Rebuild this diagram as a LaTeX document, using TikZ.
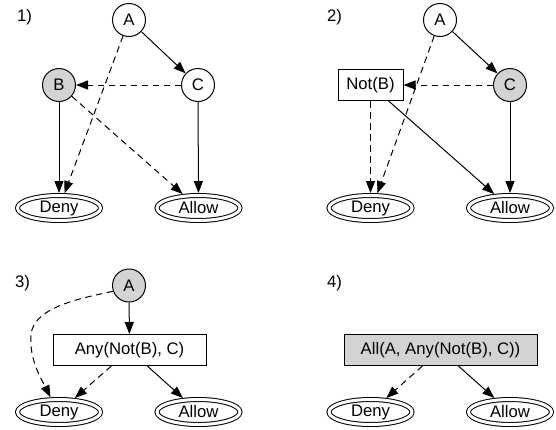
\documentclass[tikz,border=0pt]{standalone}
\usepackage{fontspec}
\setmainfont{Liberation Sans}
\usetikzlibrary{arrows.meta,shapes.geometric}
\definecolor{lg}{RGB}{211,211,211}
\begin{document}
\begin{tikzpicture}[x=1pt,y=-1pt,
  every node/.style={font=\fontsize{16.7}{20}\selectfont},
  circ/.style={circle,draw,line width=1pt,minimum size=33pt,inner sep=0pt},
  shaded/.style={fill=lg},
  boxn/.style={rectangle,draw,line width=1pt,minimum height=31pt,inner sep=0pt},
  term/.style={ellipse,draw,line width=1pt,double,double distance=3pt,minimum width=83pt,minimum height=25pt,inner sep=0pt,outer sep=2.5pt},
  lbl/.style={anchor=base west,inner sep=0pt},
  edge/.style={line width=1pt,-{Triangle[length=12pt,width=9pt]}},
  dedge/.style={edge,dash pattern=on 6.5pt off 4.5pt},
]
\useasboundingbox (0,0) rectangle (556,429);

% panel labels
\node[lbl] (n1) at (17,21) {1)};
\node[lbl] (n2) at (327,21) {2)};
\node[lbl] (n3) at (15,287) {3)};
\node[lbl] (n4) at (327,287) {4)};

% panel 1
\node[circ] (A1) at (129,20) {A};
\node[circ,shaded] (B1) at (59,85) {B};
\node[circ] (C1) at (198,85) {C};
\node[term] (D1) at (59,208) {Deny};
\node[term] (L1) at (198.5,208) {Allow};
\draw[edge] (A1) -- (C1);
\draw[dedge] (A1) -- (D1);
\draw[dedge] (C1) -- (B1);
\draw[edge] (B1) -- (D1);
\draw[dedge] (B1) -- (L1);
\draw[edge] (C1) -- (L1);

% panel 2
\node[circ] (A2) at (440,20) {A};
\node[boxn,minimum width=65pt] (N2) at (370.5,85) {Not(B)};
\node[circ,shaded] (C2) at (510,85) {C};
\node[term] (D2) at (370.5,208) {Deny};
\node[term] (L2) at (510,208) {Allow};
\draw[edge] (A2) -- (C2);
\draw[dedge] (A2) -- (D2.65);
\draw[dedge] (C2) -- (N2);
\draw[dedge] (N2) -- (D2);
\draw[edge] (N2) -- (L2);
\draw[edge] (C2) -- (L2);

% panel 3
\node[circ,shaded] (A3) at (129,285.5) {A};
\node[boxn,minimum width=153pt] (Y3) at (129.5,350) {Any(Not(B), C)};
\node[term] (D3) at (59,412) {Deny};
\node[term] (L3) at (198.5,412) {Allow};
\draw[edge] (A3) -- (Y3);
\draw[dedge] (A3.200) .. controls (70,300) and (33,310) .. (31,335) .. controls (29,360) and (42,380) .. (D3.120);
\draw[dedge] (Y3) -- (D3);
\draw[edge] (Y3) -- (L3);

% panel 4
\node[boxn,shaded,minimum width=193pt] (X4) at (440.5,350) {All(A, Any(Not(B), C))};
\node[term] (D4) at (370.5,412) {Deny};
\node[term] (L4) at (510,412) {Allow};
\draw[dedge] (X4) -- (D4);
\draw[edge] (X4) -- (L4);
\end{tikzpicture}
\end{document}
